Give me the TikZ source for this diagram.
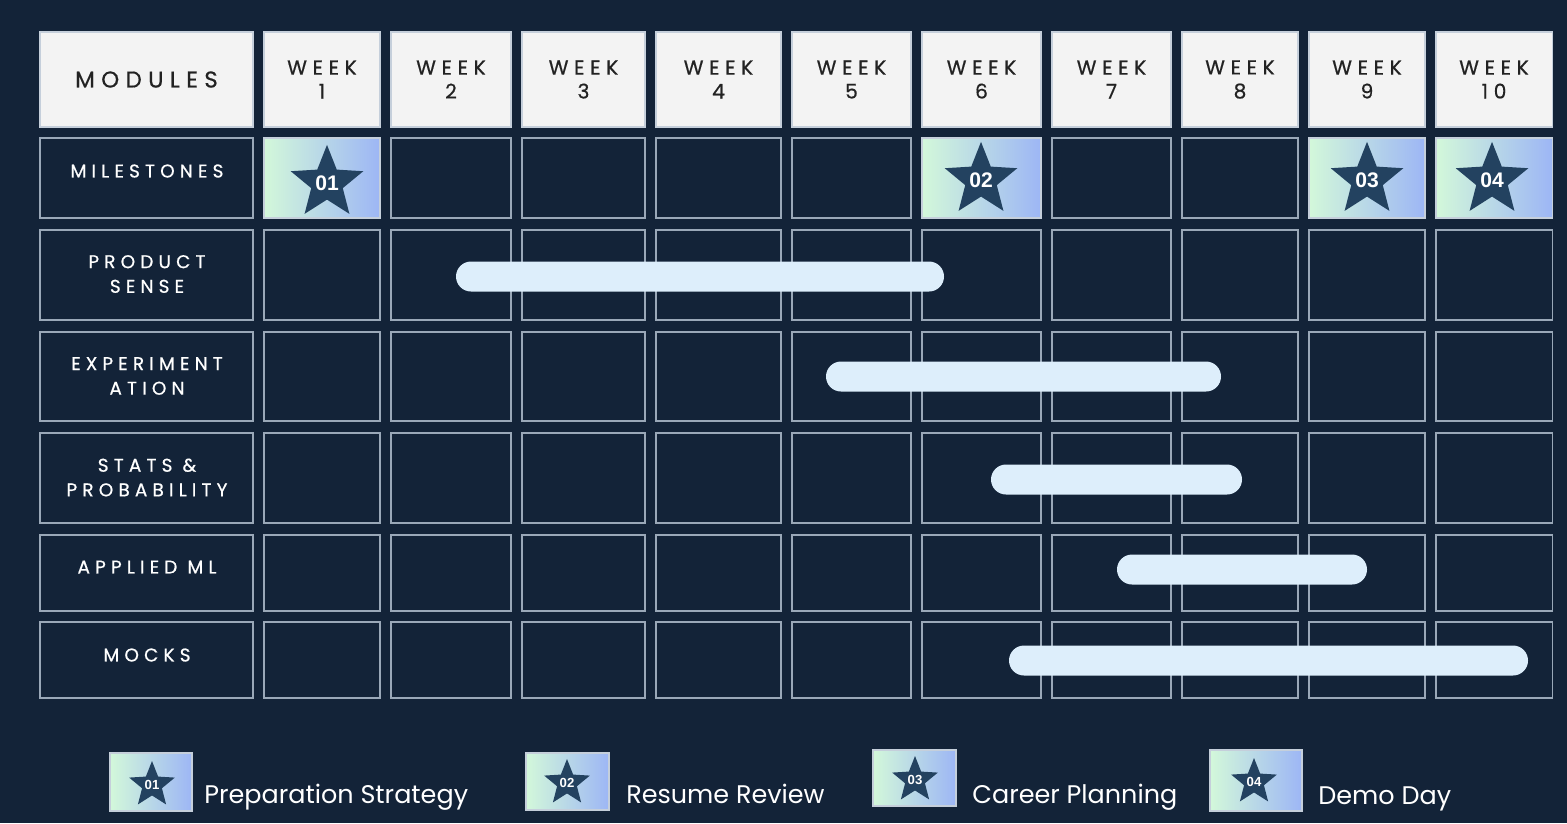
\documentclass[tikz,border=0pt]{standalone}
\usepackage{fontspec}
\setmainfont{Poppins}
\newfontfamily\spaced[LetterSpace=28, FakeBold=0.6]{Poppins}
\newfontfamily\numfont{Liberation Sans}
\usetikzlibrary{shapes.geometric}
\definecolor{bg}{HTML}{132338}
\definecolor{cellline}{HTML}{9AA8B8}
\definecolor{headfill}{HTML}{F3F3F3}
\definecolor{headline}{HTML}{C5CFDB}
\definecolor{headtext}{HTML}{222222}
\definecolor{barfill}{HTML}{DDEEFB}
\definecolor{starc}{HTML}{234260}
\definecolor{mgreen}{HTML}{D3F8DA}
\definecolor{mblue}{HTML}{9DB6F5}

\begin{document}
\begin{tikzpicture}[x=0.02cm, y=-0.02cm,
        cell/.style={rectangle, draw=cellline, line width=0.6pt, fill=bg, inner sep=0pt},
        head/.style={rectangle, draw=headline, line width=0.6pt, fill=headfill, inner sep=0pt},
        mile/.style={rectangle, draw=headline, line width=0.6pt, left color=mgreen, right color=mblue, inner sep=0pt},
        headlabel/.style={text=headtext, align=center, font=\spaced\fontsize{11.5}{13.6}\selectfont},
        rowlabel/.style={text=white, align=center, font=\spaced\fontsize{10.5}{14}\selectfont},
        bar/.style={rectangle, fill=barfill, rounded corners=0.3cm, minimum height=0.6cm, inner sep=0pt},
        star5/.style={star, star points=5, star point ratio=2.3, fill=starc, inner sep=0pt, text=white, font=\numfont\bfseries\fontsize{12}{12}\selectfont},
        legend/.style={text=white, anchor=base west, inner sep=0pt, font=\fontsize{14.5}{16}\selectfont}
    ]
        % Background
        \fill[bg] (0,0) rectangle (1567,823);
        \useasboundingbox (0,0) rectangle (1567,823);

        % Header row
        \node[head, minimum width=213*0.02cm, minimum height=95*0.02cm] (h0) at (146.5,79.5) {};
        \node[text=headtext, font=\spaced\fontsize{13}{13}\selectfont] (modules) at (h0.center) {MODULES};
        \foreach \c/\l/\r in {1/264/380,2/391/511,3/522/645,4/656/781,5/792/911,6/922/1041,7/1052/1171,8/1182/1298,9/1309/1425,10/1436/1552} {
            \node[head, minimum width={(\r-\l)*0.02cm}, minimum height=95*0.02cm] (h\c) at ({(\l+\r)/2},79.5) {};
            \node[headlabel] (wk\c) at (h\c.center) {WEEK\\\c};
        }

        % Grid of module rows
        \foreach \n/\t/\b in {1/138/218,2/230/320,3/332/421,4/433/523,5/535/611,6/622/698} {
            \node[cell, minimum width=213*0.02cm, minimum height={(\b-\t)*0.02cm}] (r\n) at (146.5,{(\t+\b)/2}) {};
            \foreach \c/\l/\r in {1/264/380,2/391/511,3/522/645,4/656/781,5/792/911,6/922/1041,7/1052/1171,8/1182/1298,9/1309/1425,10/1436/1552} {
                \node[cell, minimum width={(\r-\l)*0.02cm}, minimum height={(\b-\t)*0.02cm}] (c\n-\c) at ({(\l+\r)/2},{(\t+\b)/2}) {};
            }
        }

        % Row labels
        \node[rowlabel] (lab1) at (147,171) {MILESTONES};
        \node[rowlabel] (lab2) at (147,274) {PRODUCT\\SENSE};
        \node[rowlabel] (lab3) at (147,376) {EXPERIMENT\\ATION};
        \node[rowlabel] (lab4) at (147,477.5) {STATS \&\\PROBABILITY};
        \node[rowlabel] (lab5) at (147,567) {APPLIED ML};
        \node[rowlabel] (lab6) at (147,655) {MOCKS};

        % Milestones
        \foreach \c/\l/\r in {1/264/380,6/922/1041,9/1309/1425,10/1436/1552} {
            \node[mile, minimum width={(\r-\l)*0.02cm}, minimum height=80*0.02cm] (ms\c) at ({(\l+\r)/2},178) {};
        }
        \node[star5, minimum size=68*0.02cm] (st1) at (327,183) {01};
        \node[star5, minimum size=74*0.02cm] (st2) at (981,180) {02};
        \node[star5, minimum size=74*0.02cm] (st3) at (1367,180) {03};
        \node[star5, minimum size=74*0.02cm] (st4) at (1492,180) {04};

        % Bars
        \node[bar, minimum width=488*0.02cm] (b1) at (700,276.5) {};
        \node[bar, minimum width=395*0.02cm] (b2) at (1023.5,376.5) {};
        \node[bar, minimum width=251*0.02cm] (b3) at (1116.5,479.5) {};
        \node[bar, minimum width=250*0.02cm] (b4) at (1242,569.5) {};
        \node[bar, minimum width=519*0.02cm] (b5) at (1268.5,660.5) {};

        % Legend
        \node[mile, minimum width=82*0.02cm, minimum height=58*0.02cm] (lg1) at (151,782) {};
        \node[mile, minimum width=83*0.02cm, minimum height=57*0.02cm] (lg2) at (567.5,781.5) {};
        \node[mile, minimum width=83*0.02cm, minimum height=56*0.02cm] (lg3) at (914.5,778) {};
        \node[mile, minimum width=92*0.02cm, minimum height=61*0.02cm] (lg4) at (1256,780.5) {};
        \foreach \i/\x/\y in {1/152/785,2/567/783,3/915/780,4/1254/782} {
            \node[star5, minimum size=48*0.02cm, font=\numfont\bfseries\fontsize{7.5}{7.5}\selectfont] (ls\i) at (\x,\y) {0\i};
        }
        \node[legend] (t1) at (204,803) {Preparation Strategy};
        \node[legend] (t2) at (626,803) {Resume Review};
        \node[legend] (t3) at (972,803) {Career Planning};
        \node[legend] (t4) at (1318,804) {Demo Day};
    \end{tikzpicture}
\end{document}
